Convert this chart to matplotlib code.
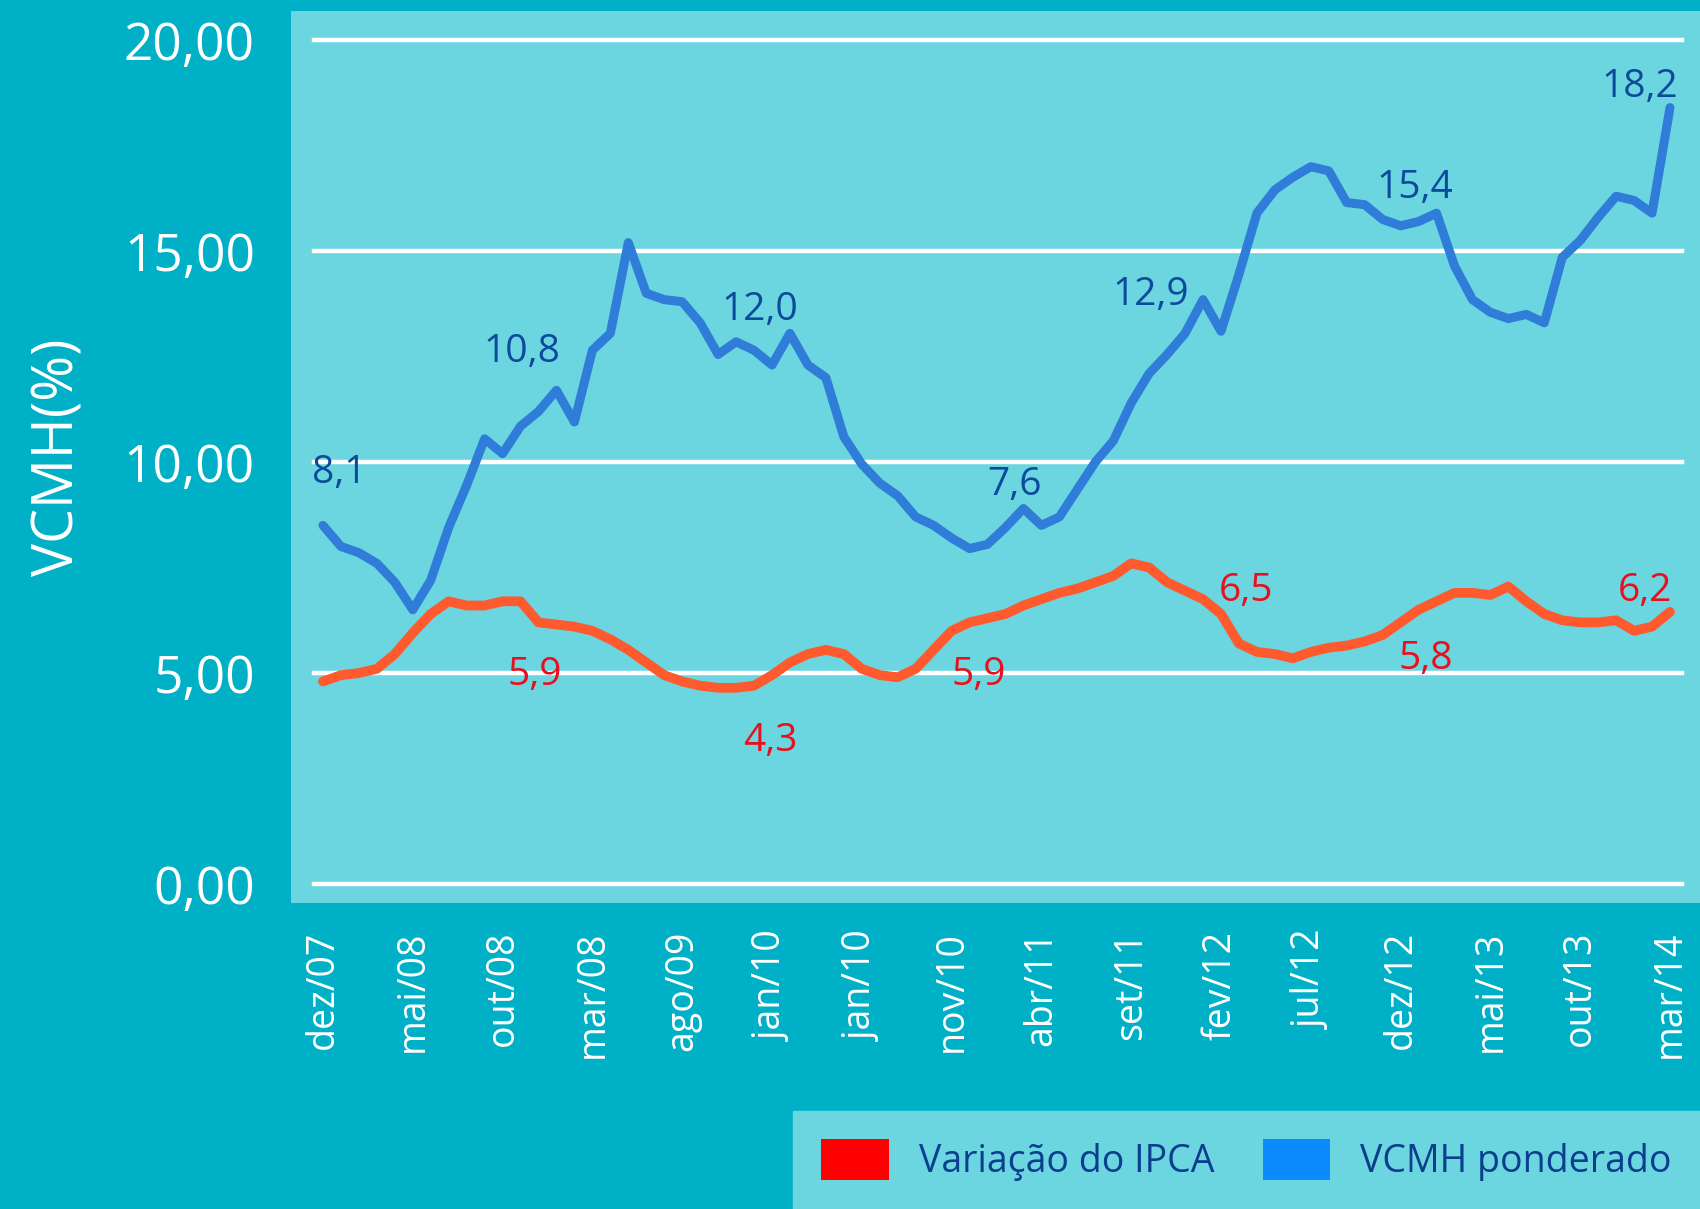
import matplotlib.pyplot as plt
from matplotlib.patches import Patch
import numpy as np

# monthly, dez/07 .. mar/14
vcmh = [8.5, 8.0, 7.85, 7.6, 7.15, 6.5, 7.2, 8.45, 9.45, 10.55,
        10.2, 10.85, 11.2, 11.7, 10.95, 12.65, 13.05, 15.2, 14.0, 13.85,
        13.8, 13.3, 12.55, 12.85, 12.65, 12.3, 13.05, 12.3, 12.0, 10.6,
        9.95, 9.5, 9.2, 8.7, 8.5, 8.2, 7.95, 8.05, 8.45, 8.9,
        8.5, 8.7, 9.35, 10.0, 10.5, 11.4, 12.1, 12.55, 13.05, 13.85,
        13.1, 14.45, 15.9, 16.45, 16.75, 17.0, 16.9, 16.15, 16.1, 15.75,
        15.6, 15.7, 15.9, 14.65, 13.85, 13.55, 13.4, 13.5, 13.3, 14.85,
        15.25, 15.8, 16.3, 16.2, 15.9, 18.4]
ipca = [4.8, 4.95, 5.0, 5.1, 5.45, 5.95, 6.4, 6.7, 6.6, 6.6,
        6.7, 6.7, 6.2, 6.15, 6.1, 6.0, 5.8, 5.55, 5.25, 4.95,
        4.8, 4.7, 4.65, 4.65, 4.7, 4.95, 5.25, 5.45, 5.55, 5.45,
        5.1, 4.95, 4.9, 5.1, 5.55, 6.0, 6.2, 6.3, 6.4, 6.6,
        6.75, 6.9, 7.0, 7.15, 7.3, 7.6, 7.5, 7.15, 6.95, 6.75,
        6.4, 5.7, 5.5, 5.45, 5.35, 5.5, 5.6, 5.65, 5.75, 5.9,
        6.2, 6.5, 6.7, 6.9, 6.9, 6.85, 7.05, 6.7, 6.4, 6.25,
        6.2, 6.2, 6.25, 6.0, 6.1, 6.45]
tick_labels = ["dez/07", "mai/08", "out/08", "mar/08", "ago/09", "jan/10",
               "jan/10", "nov/10", "abr/11", "set/11", "fev/12", "jul/12",
               "dez/12", "mai/13", "out/13", "mar/14"]

# annotations: (text, month index, y)
blue_notes = [("8,1", 0.9, 9.75), ("10,8", 11.05, 12.6), ("12,0", 24.3, 13.6),
              ("7,6", 38.5, 9.45), ("12,9", 46.1, 13.96), ("15,4", 60.8, 16.5),
              ("18,2", 73.3, 18.9)]
red_notes = [("5,9", 11.8, 4.95), ("4,3", 24.9, 3.38), ("5,9", 36.5, 4.95),
             ("6,5", 51.4, 6.95), ("5,8", 61.4, 5.33), ("6,2", 73.6, 6.95)]

bg = "#00B0C6"
panel = "#6BD6E0"
blue = "#2F7DD8"
red = "#FF5A2E"

plt.rcParams["font.family"] = ["Open Sans", "DejaVu Sans"]

fig = plt.figure(figsize=(17, 12.09), dpi=100, facecolor=bg)
ax = fig.add_axes([291 / 1700, 1 - 903 / 1209, 1409 / 1700, 892 / 1209])
ax.set_facecolor(panel)

t = np.arange(len(vcmh))
for y in [0, 5, 10, 15, 20]:
    ax.axhline(y, xmin=0.016, xmax=0.987, color="white", lw=3.2, zorder=1)
ax.plot(t, ipca, color=red, lw=7, solid_joinstyle="round",
        solid_capstyle="round", zorder=3)
ax.plot(t, vcmh, color=blue, lw=6.5, solid_joinstyle="round",
        solid_capstyle="round", zorder=4)

for s, x, y in blue_notes:
    ax.text(x, y, s, color="#0B4A9C", fontsize=28, ha="center", va="center", zorder=5)
for s, x, y in red_notes:
    ax.text(x, y, s, color="#E8101E", fontsize=28, ha="center", va="center", zorder=5)

ax.set_xlim(-1.78, 76.67)
ax.set_ylim(-0.45, 20.69)
ax.set_yticks([0, 5, 10, 15, 20])
ax.set_yticklabels(["0,00", "5,00", "10,00", "15,00", "20,00"])
ax.set_xticks(np.arange(0, 76, 5))
ax.set_xticklabels(tick_labels, rotation=90)
ax.tick_params(axis="y", colors="white", labelsize=37, length=0, pad=26)
ax.tick_params(axis="x", colors="white", labelsize=27, length=0, pad=20)
for sp in ax.spines.values():
    sp.set_visible(False)
ax.set_ylabel("VCMH(%)", color="white", fontsize=40, labelpad=26)

handles = [Patch(facecolor="#FF0000", label="Variação do IPCA"),
           Patch(facecolor="#0A8CFF", label="VCMH ponderado")]
leg = fig.legend(handles=handles, loc="lower right", bbox_to_anchor=(1, 0),
                 ncol=2, frameon=True, fancybox=False, fontsize=27,
                 handlelength=1.8, handleheight=1.3, handletextpad=0.8,
                 columnspacing=1.3, borderpad=0.75, borderaxespad=0)
leg.get_frame().set_facecolor(panel)
leg.get_frame().set_edgecolor(panel)
leg.get_frame().set_alpha(1)
for txt in leg.get_texts():
    txt.set_color("#0B3F8E")

fig.savefig("out.png", dpi=100, facecolor=bg)
